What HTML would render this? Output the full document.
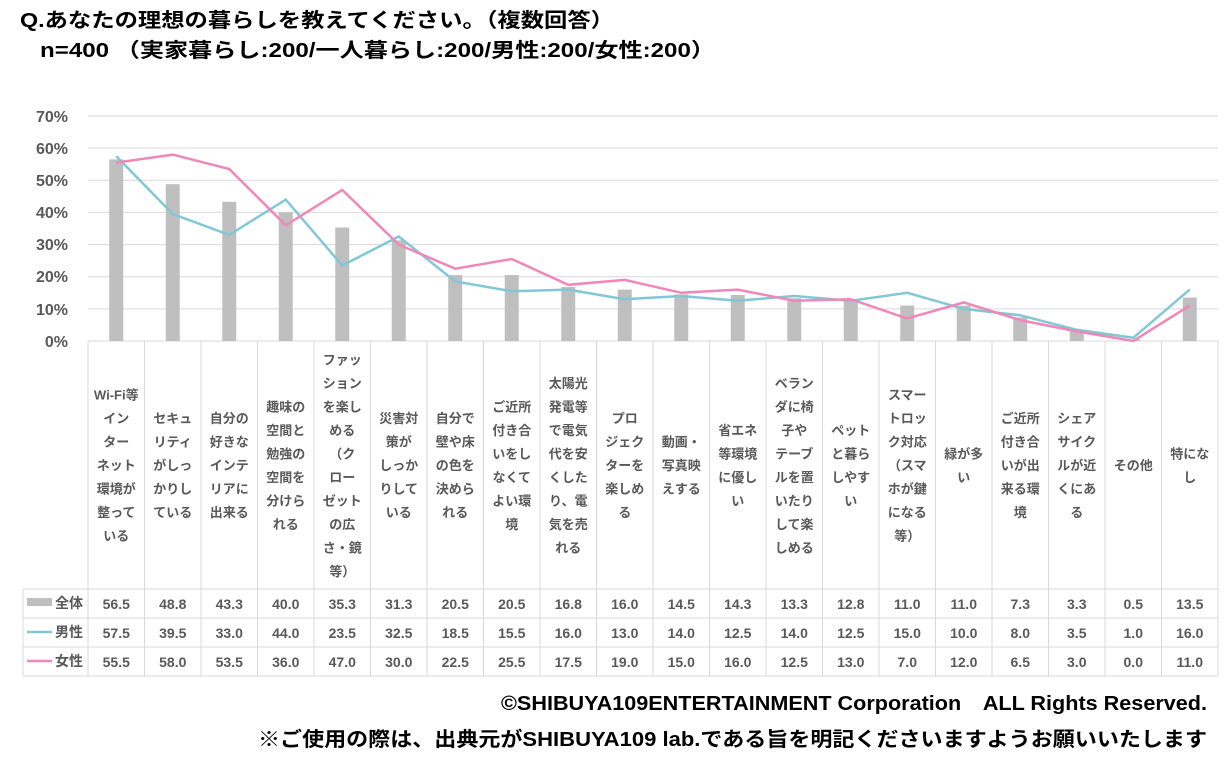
<!DOCTYPE html>
<html><head><meta charset="utf-8"><style>
html,body{margin:0;padding:0;background:#fff;}
svg{display:block;font-family:"Liberation Sans","Noto Sans CJK JP",sans-serif;}
.t{font-weight:bold;fill:#000;}
.ax{font-size:16px;font-weight:bold;fill:#595959;text-anchor:end;}
.c{font-size:13px;font-weight:bold;fill:#595959;text-anchor:middle;}
.v{font-size:14px;font-weight:bold;fill:#595959;text-anchor:middle;}
.g{stroke:#d9d9d9;stroke-width:1;}
</style></head><body>
<svg width="1229" height="764" viewBox="0 0 1229 764">
<text class="t" x="20" y="27" font-size="20" textLength="594" lengthAdjust="spacingAndGlyphs">Q.あなたの理想の暮らしを教えてください。（複数回答）</text>
<text class="t" x="40" y="57" font-size="20" textLength="675" lengthAdjust="spacingAndGlyphs">n=400 （実家暮らし:200/一人暮らし:200/男性:200/女性:200）</text>
<g class="g">
<line x1="88" y1="116" x2="1218" y2="116"/><line x1="88" y1="148.1" x2="1218" y2="148.1"/><line x1="88" y1="180.3" x2="1218" y2="180.3"/><line x1="88" y1="212.4" x2="1218" y2="212.4"/><line x1="88" y1="244.6" x2="1218" y2="244.6"/><line x1="88" y1="276.7" x2="1218" y2="276.7"/><line x1="88" y1="308.9" x2="1218" y2="308.9"/>
</g>
<g class="ax"><text x="68" y="122">70%</text><text x="68" y="154">60%</text><text x="68" y="186">50%</text><text x="68" y="218">40%</text><text x="68" y="250">30%</text><text x="68" y="282">20%</text><text x="68" y="315">10%</text><text x="68" y="347">0%</text></g>
<!-- table grid -->
<g class="g">
<line x1="88" y1="341" x2="1218" y2="341"/>
<line x1="23" y1="589" x2="1218" y2="589"/><line x1="23" y1="618" x2="1218" y2="618"/><line x1="23" y1="647" x2="1218" y2="647"/><line x1="23" y1="676" x2="1218" y2="676"/>
<line x1="23" y1="589" x2="23" y2="676"/>
<line x1="88" y1="341" x2="88" y2="676"/><line x1="144.5" y1="341" x2="144.5" y2="676"/><line x1="201" y1="341" x2="201" y2="676"/><line x1="257.5" y1="341" x2="257.5" y2="676"/><line x1="314" y1="341" x2="314" y2="676"/><line x1="370.5" y1="341" x2="370.5" y2="676"/><line x1="427" y1="341" x2="427" y2="676"/><line x1="483.5" y1="341" x2="483.5" y2="676"/><line x1="540" y1="341" x2="540" y2="676"/><line x1="596.5" y1="341" x2="596.5" y2="676"/><line x1="653" y1="341" x2="653" y2="676"/><line x1="709.5" y1="341" x2="709.5" y2="676"/><line x1="766" y1="341" x2="766" y2="676"/><line x1="822.5" y1="341" x2="822.5" y2="676"/><line x1="879" y1="341" x2="879" y2="676"/><line x1="935.5" y1="341" x2="935.5" y2="676"/><line x1="992" y1="341" x2="992" y2="676"/><line x1="1048.5" y1="341" x2="1048.5" y2="676"/><line x1="1105" y1="341" x2="1105" y2="676"/><line x1="1161.5" y1="341" x2="1161.5" y2="676"/><line x1="1218" y1="341" x2="1218" y2="676"/>
</g>
<!-- bars -->
<g fill="#bfbfbf">
<rect x="109.25" y="159.4" width="14" height="181.6"/><rect x="165.75" y="184.2" width="14" height="156.8"/><rect x="222.25" y="201.8" width="14" height="139.2"/><rect x="278.75" y="212.4" width="14" height="128.6"/><rect x="335.25" y="227.5" width="14" height="113.5"/><rect x="391.75" y="240.4" width="14" height="100.6"/><rect x="448.25" y="275.1" width="14" height="65.9"/><rect x="504.75" y="275.1" width="14" height="65.9"/><rect x="561.25" y="287" width="14" height="54"/><rect x="617.75" y="289.6" width="14" height="51.4"/><rect x="674.25" y="294.4" width="14" height="46.6"/><rect x="730.75" y="295" width="14" height="46"/><rect x="787.25" y="298.3" width="14" height="42.7"/><rect x="843.75" y="299.9" width="14" height="41.1"/><rect x="900.25" y="305.6" width="14" height="35.4"/><rect x="956.75" y="305.6" width="14" height="35.4"/><rect x="1013.25" y="317.5" width="14" height="23.5"/><rect x="1069.75" y="330.4" width="14" height="10.6"/><rect x="1126.25" y="339.4" width="14" height="1.6"/><rect x="1182.75" y="297.6" width="14" height="43.4"/>
</g>
<polyline fill="none" stroke="#82c7d6" stroke-width="2.5" points="116.25,156.2 172.75,214 229.25,234.9 285.75,199.6 342.25,265.5 398.75,236.5 455.25,281.5 511.75,291.2 568.25,289.6 624.75,299.2 681.25,296 737.75,300.8 794.25,296 850.75,300.8 907.25,292.8 963.75,308.9 1020.25,315.3 1076.75,329.8 1133.25,337.8 1189.75,289.6"/>
<polyline fill="none" stroke="#f087b8" stroke-width="2.5" points="116.25,162.6 172.75,154.6 229.25,169 285.75,225.3 342.25,189.9 398.75,244.6 455.25,268.7 511.75,259 568.25,284.8 624.75,279.9 681.25,292.8 737.75,289.6 794.25,300.8 850.75,299.2 907.25,318.5 963.75,302.4 1020.25,320.1 1076.75,331.4 1133.25,341 1189.75,305.6"/>
<!-- category labels -->
<g class="c">
<text x="116.25" y="399.5"><tspan x="116.25">Wi-Fi等</tspan><tspan x="116.25" dy="23.5">イン</tspan><tspan x="116.25" dy="23.5">ター</tspan><tspan x="116.25" dy="23.5">ネット</tspan><tspan x="116.25" dy="23.5">環境が</tspan><tspan x="116.25" dy="23.5">整って</tspan><tspan x="116.25" dy="23.5">いる</tspan></text>
<text x="172.75" y="423"><tspan x="172.75">セキュ</tspan><tspan x="172.75" dy="23.5">リティ</tspan><tspan x="172.75" dy="23.5">がしっ</tspan><tspan x="172.75" dy="23.5">かりし</tspan><tspan x="172.75" dy="23.5">ている</tspan></text>
<text x="229.25" y="423"><tspan x="229.25">自分の</tspan><tspan x="229.25" dy="23.5">好きな</tspan><tspan x="229.25" dy="23.5">インテ</tspan><tspan x="229.25" dy="23.5">リアに</tspan><tspan x="229.25" dy="23.5">出来る</tspan></text>
<text x="285.75" y="411.25"><tspan x="285.75">趣味の</tspan><tspan x="285.75" dy="23.5">空間と</tspan><tspan x="285.75" dy="23.5">勉強の</tspan><tspan x="285.75" dy="23.5">空間を</tspan><tspan x="285.75" dy="23.5">分けら</tspan><tspan x="285.75" dy="23.5">れる</tspan></text>
<text x="342.25" y="364.25"><tspan x="342.25">ファッ</tspan><tspan x="342.25" dy="23.5">ション</tspan><tspan x="342.25" dy="23.5">を楽し</tspan><tspan x="342.25" dy="23.5">める</tspan><tspan x="342.25" dy="23.5">（ク</tspan><tspan x="342.25" dy="23.5">ロー</tspan><tspan x="342.25" dy="23.5">ゼット</tspan><tspan x="342.25" dy="23.5">の広</tspan><tspan x="342.25" dy="23.5">さ・鏡</tspan><tspan x="342.25" dy="23.5">等）</tspan></text>
<text x="398.75" y="423"><tspan x="398.75">災害対</tspan><tspan x="398.75" dy="23.5">策が</tspan><tspan x="398.75" dy="23.5">しっか</tspan><tspan x="398.75" dy="23.5">りして</tspan><tspan x="398.75" dy="23.5">いる</tspan></text>
<text x="455.25" y="423"><tspan x="455.25">自分で</tspan><tspan x="455.25" dy="23.5">壁や床</tspan><tspan x="455.25" dy="23.5">の色を</tspan><tspan x="455.25" dy="23.5">決めら</tspan><tspan x="455.25" dy="23.5">れる</tspan></text>
<text x="511.75" y="411.25"><tspan x="511.75">ご近所</tspan><tspan x="511.75" dy="23.5">付き合</tspan><tspan x="511.75" dy="23.5">いをし</tspan><tspan x="511.75" dy="23.5">なくて</tspan><tspan x="511.75" dy="23.5">よい環</tspan><tspan x="511.75" dy="23.5">境</tspan></text>
<text x="568.25" y="387.75"><tspan x="568.25">太陽光</tspan><tspan x="568.25" dy="23.5">発電等</tspan><tspan x="568.25" dy="23.5">で電気</tspan><tspan x="568.25" dy="23.5">代を安</tspan><tspan x="568.25" dy="23.5">くした</tspan><tspan x="568.25" dy="23.5">り、電</tspan><tspan x="568.25" dy="23.5">気を売</tspan><tspan x="568.25" dy="23.5">れる</tspan></text>
<text x="624.75" y="423"><tspan x="624.75">プロ</tspan><tspan x="624.75" dy="23.5">ジェク</tspan><tspan x="624.75" dy="23.5">ターを</tspan><tspan x="624.75" dy="23.5">楽しめ</tspan><tspan x="624.75" dy="23.5">る</tspan></text>
<text x="681.25" y="446.5"><tspan x="681.25">動画・</tspan><tspan x="681.25" dy="23.5">写真映</tspan><tspan x="681.25" dy="23.5">えする</tspan></text>
<text x="737.75" y="434.75"><tspan x="737.75">省エネ</tspan><tspan x="737.75" dy="23.5">等環境</tspan><tspan x="737.75" dy="23.5">に優し</tspan><tspan x="737.75" dy="23.5">い</tspan></text>
<text x="794.25" y="387.75"><tspan x="794.25">ベラン</tspan><tspan x="794.25" dy="23.5">ダに椅</tspan><tspan x="794.25" dy="23.5">子や</tspan><tspan x="794.25" dy="23.5">テーブ</tspan><tspan x="794.25" dy="23.5">ルを置</tspan><tspan x="794.25" dy="23.5">いたり</tspan><tspan x="794.25" dy="23.5">して楽</tspan><tspan x="794.25" dy="23.5">しめる</tspan></text>
<text x="850.75" y="434.75"><tspan x="850.75">ペット</tspan><tspan x="850.75" dy="23.5">と暮ら</tspan><tspan x="850.75" dy="23.5">しやす</tspan><tspan x="850.75" dy="23.5">い</tspan></text>
<text x="907.25" y="399.5"><tspan x="907.25">スマー</tspan><tspan x="907.25" dy="23.5">トロッ</tspan><tspan x="907.25" dy="23.5">ク対応</tspan><tspan x="907.25" dy="23.5">（スマ</tspan><tspan x="907.25" dy="23.5">ホが鍵</tspan><tspan x="907.25" dy="23.5">になる</tspan><tspan x="907.25" dy="23.5">等）</tspan></text>
<text x="963.75" y="458.25"><tspan x="963.75">緑が多</tspan><tspan x="963.75" dy="23.5">い</tspan></text>
<text x="1020.25" y="423"><tspan x="1020.25">ご近所</tspan><tspan x="1020.25" dy="23.5">付き合</tspan><tspan x="1020.25" dy="23.5">いが出</tspan><tspan x="1020.25" dy="23.5">来る環</tspan><tspan x="1020.25" dy="23.5">境</tspan></text>
<text x="1076.75" y="423"><tspan x="1076.75">シェア</tspan><tspan x="1076.75" dy="23.5">サイク</tspan><tspan x="1076.75" dy="23.5">ルが近</tspan><tspan x="1076.75" dy="23.5">くにあ</tspan><tspan x="1076.75" dy="23.5">る</tspan></text>
<text x="1133.25" y="470">その他</text>
<text x="1189.75" y="458.25"><tspan x="1189.75">特にな</tspan><tspan x="1189.75" dy="23.5">し</tspan></text>
</g>
<!-- legend -->
<rect x="27" y="598" width="25" height="8" fill="#bfbfbf"/>
<line x1="27" y1="632" x2="52" y2="632" stroke="#82c7d6" stroke-width="2.5"/>
<line x1="27" y1="661" x2="52" y2="661" stroke="#f087b8" stroke-width="2.5"/>
<g class="v" style="text-anchor:start"><text x="55" y="608">全体</text><text x="55" y="637">男性</text><text x="55" y="666">女性</text></g>
<!-- values -->
<g class="v">
<text y="609"><tspan x="116.25">56.5</tspan><tspan x="172.75">48.8</tspan><tspan x="229.25">43.3</tspan><tspan x="285.75">40.0</tspan><tspan x="342.25">35.3</tspan><tspan x="398.75">31.3</tspan><tspan x="455.25">20.5</tspan><tspan x="511.75">20.5</tspan><tspan x="568.25">16.8</tspan><tspan x="624.75">16.0</tspan><tspan x="681.25">14.5</tspan><tspan x="737.75">14.3</tspan><tspan x="794.25">13.3</tspan><tspan x="850.75">12.8</tspan><tspan x="907.25">11.0</tspan><tspan x="963.75">11.0</tspan><tspan x="1020.25">7.3</tspan><tspan x="1076.75">3.3</tspan><tspan x="1133.25">0.5</tspan><tspan x="1189.75">13.5</tspan></text>
<text y="638"><tspan x="116.25">57.5</tspan><tspan x="172.75">39.5</tspan><tspan x="229.25">33.0</tspan><tspan x="285.75">44.0</tspan><tspan x="342.25">23.5</tspan><tspan x="398.75">32.5</tspan><tspan x="455.25">18.5</tspan><tspan x="511.75">15.5</tspan><tspan x="568.25">16.0</tspan><tspan x="624.75">13.0</tspan><tspan x="681.25">14.0</tspan><tspan x="737.75">12.5</tspan><tspan x="794.25">14.0</tspan><tspan x="850.75">12.5</tspan><tspan x="907.25">15.0</tspan><tspan x="963.75">10.0</tspan><tspan x="1020.25">8.0</tspan><tspan x="1076.75">3.5</tspan><tspan x="1133.25">1.0</tspan><tspan x="1189.75">16.0</tspan></text>
<text y="667"><tspan x="116.25">55.5</tspan><tspan x="172.75">58.0</tspan><tspan x="229.25">53.5</tspan><tspan x="285.75">36.0</tspan><tspan x="342.25">47.0</tspan><tspan x="398.75">30.0</tspan><tspan x="455.25">22.5</tspan><tspan x="511.75">25.5</tspan><tspan x="568.25">17.5</tspan><tspan x="624.75">19.0</tspan><tspan x="681.25">15.0</tspan><tspan x="737.75">16.0</tspan><tspan x="794.25">12.5</tspan><tspan x="850.75">13.0</tspan><tspan x="907.25">7.0</tspan><tspan x="963.75">12.0</tspan><tspan x="1020.25">6.5</tspan><tspan x="1076.75">3.0</tspan><tspan x="1133.25">0.0</tspan><tspan x="1189.75">11.0</tspan></text>
</g>
<text class="t" x="501" y="710" font-size="20" textLength="706" lengthAdjust="spacingAndGlyphs">©SHIBUYA109ENTERTAINMENT Corporation　ALL Rights Reserved.</text>
<text class="t" x="258" y="746" font-size="20" textLength="949" lengthAdjust="spacingAndGlyphs">※ご使用の際は、出典元がSHIBUYA109 lab.である旨を明記くださいますようお願いいたします</text>
</svg>
</body></html>
